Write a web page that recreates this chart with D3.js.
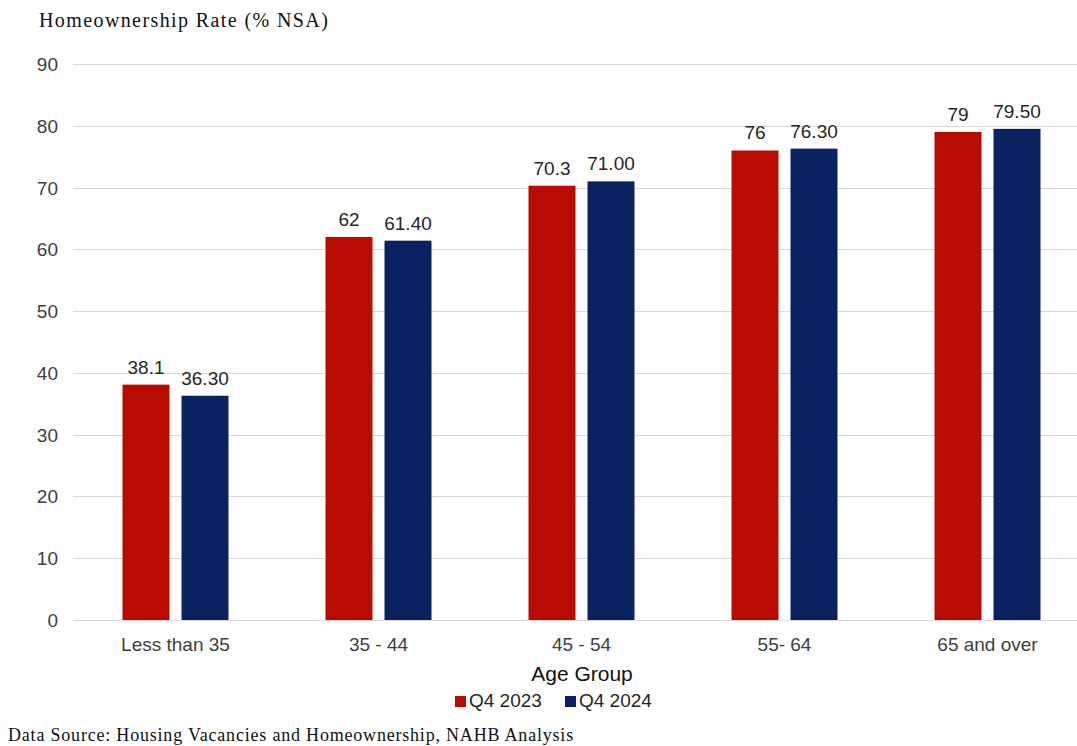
<!DOCTYPE html>
<html>
<head>
<meta charset="utf-8">
<script src="https://cdn.jsdelivr.net/npm/d3@7"></script>
<style>
  body { margin: 0; background: #fff; }
  svg { display: block; }
</style>
</head>
<body>
<div id="chart"></div>
<script>
var categories = ["Less than 35", "35 - 44", "45 - 54", "55- 64", "65 and over"];
var seriesNames = ["Q4 2023", "Q4 2024"];
var q4_2023 = [38.1, 62, 70.3, 76, 79];
var q4_2024 = [36.3, 61.4, 71.0, 76.3, 79.5];
var labels2023 = ["38.1", "62", "70.3", "76", "79"];
var labels2024 = ["36.30", "61.40", "71.00", "76.30", "79.50"];
var yTicks = [0, 10, 20, 30, 40, 50, 60, 70, 80, 90];
var colors = ["#b80c02", "#0b2260"];

var width = 1077, height = 746;
var sans = "Arial, 'Liberation Sans', sans-serif",
    serif = "'Times New Roman', 'Liberation Serif', serif";

var svg = d3.select("#chart")
    .append("svg")
    .attr("width", width)
    .attr("height", height);

var x = d3.scaleBand()
    .domain(categories)
    .range([74, 1089])
    .paddingInner(0)
    .paddingOuter(0);

var y = d3.scaleLinear()
    .domain([0, 90])
    .range([620, 64]);

var barW = 47, gap = 12;

// gridlines
svg.append("g")
    .selectAll("line")
    .data(yTicks)
    .enter()
    .append("line")
    .attr("x1", 73)
    .attr("x2", 1089)
    .attr("y1", function (d) { return Math.round(y(d)) + 0.5; })
    .attr("y2", function (d) { return Math.round(y(d)) + 0.5; })
    .style("stroke", "#d9d9d9")
    .style("stroke-width", 1);

// y tick labels
svg.append("g")
    .selectAll("text")
    .data(yTicks)
    .enter()
    .append("text")
    .attr("x", 58)
    .attr("y", function (d) { return y(d) + 7; })
    .attr("text-anchor", "end")
    .style("font-family", sans)
    .style("font-size", "19px")
    .style("fill", "#404040")
    .text(function (d) { return d; });

var rows = categories.map(function (c, i) {
    return { cat: c, vals: [q4_2023[i], q4_2024[i]], labs: [labels2023[i], labels2024[i]] };
});

var groups = svg.append("g")
    .selectAll("g")
    .data(rows)
    .enter()
    .append("g")
    .attr("transform", function (d) {
        return "translate(" + (x(d.cat) + x.bandwidth() / 2) + ",0)";
    });

function barX(j) {
    return j === 0 ? -(gap / 2 + barW) : gap / 2;
}

groups.selectAll("rect")
    .data(function (d) { return d.vals; })
    .enter()
    .append("rect")
    .attr("x", function (d, j) { return barX(j); })
    .attr("y", function (d) { return y(d); })
    .attr("width", barW)
    .attr("height", function (d) { return y(0) - y(d); })
    .style("fill", function (d, j) { return colors[j]; });

groups.selectAll("text.val")
    .data(function (d) { return d.vals.map(function (v, j) { return { v: v, lab: d.labs[j] }; }); })
    .enter()
    .append("text")
    .attr("class", "val")
    .attr("x", function (d, j) { return barX(j) + barW / 2; })
    .attr("y", function (d) { return y(d.v) - 11; })
    .attr("text-anchor", "middle")
    .style("font-family", sans)
    .style("font-size", "19px")
    .style("fill", "#262626")
    .text(function (d) { return d.lab; });

// category labels
svg.append("g")
    .selectAll("text")
    .data(categories)
    .enter()
    .append("text")
    .attr("x", function (d) { return x(d) + x.bandwidth() / 2; })
    .attr("y", 651)
    .attr("text-anchor", "middle")
    .style("font-family", sans)
    .style("font-size", "19px")
    .style("fill", "#404040")
    .text(function (d) { return d; });

// axis title
svg.append("text")
    .attr("x", 582)
    .attr("y", 681)
    .attr("text-anchor", "middle")
    .style("font-family", sans)
    .style("font-size", "21px")
    .style("fill", "#111")
    .text("Age Group");

// legend
var legendX = [455, 565];
var legend = svg.append("g")
    .selectAll("g")
    .data(seriesNames)
    .enter()
    .append("g")
    .attr("transform", function (d, i) { return "translate(" + legendX[i] + ",696)"; });

legend.append("rect")
    .attr("width", 11)
    .attr("height", 11)
    .style("fill", function (d, i) { return colors[i]; });

legend.append("text")
    .attr("x", 14)
    .attr("y", 11)
    .style("font-family", sans)
    .style("font-size", "19px")
    .style("fill", "#262626")
    .text(function (d) { return d; });

// title
svg.append("text")
    .attr("x", 39)
    .attr("y", 27)
    .style("font-family", serif)
    .style("font-size", "20px")
    .style("letter-spacing", "1.4px")
    .style("fill", "#111")
    .text("Homeownership Rate (% NSA)");

// source
svg.append("text")
    .attr("x", 8)
    .attr("y", 741)
    .style("font-family", serif)
    .style("font-size", "18px")
    .style("letter-spacing", "0.8px")
    .style("fill", "#111")
    .text("Data Source: Housing Vacancies and Homeownership, NAHB Analysis");
</script>
</body>
</html>
